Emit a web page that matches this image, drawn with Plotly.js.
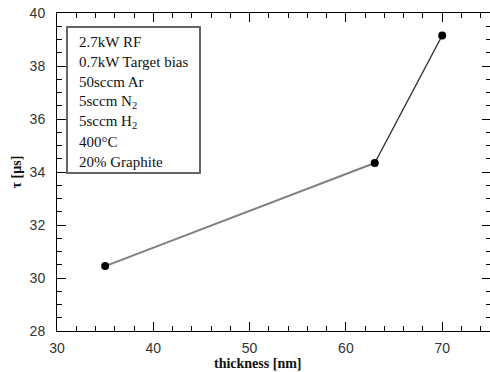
<!DOCTYPE html>
<html>
<head>
<meta charset="utf-8">
<script src="https://cdn.plot.ly/plotly-3.0.1.min.js"></script>
<style>html,body{margin:0;padding:0;background:#fff;overflow:hidden;}#chart{width:490px;height:372px;overflow:hidden;}</style>
</head>
<body>
<div id="chart"></div>
<script>
var thickness = [35, 63, 70];
var tau = [30.45, 34.34, 39.15];
var infoLines = ["2.7kW RF", "0.7kW Target bias", "50sccm Ar", "5sccm N<sub>2</sub>", "5sccm H<sub>2</sub>", "400°C", "20% Graphite"];
var xTitle = "thickness [nm]";
var yTitle = "τ [µs]";

var serif = "Liberation Serif, Times New Roman, serif";
var sans = "Liberation Sans, Arial, sans-serif";

var traces = [
  {x: thickness.slice(0, 2), y: tau.slice(0, 2), mode: "lines", line: {color: "#808080", width: 2}, hoverinfo: "skip"},
  {x: thickness.slice(1, 3), y: tau.slice(1, 3), mode: "lines", line: {color: "#333333", width: 1.4}, hoverinfo: "skip"},
  {x: thickness, y: tau, mode: "markers", marker: {color: "#000", size: 8}}
];

var PW = 434, PH = 318;
var annotations = infoLines.map(function (t, i) {
  return {xref: "paper", yref: "paper", x: (77 - 57) / PW, y: (331 - (42 + i * 20)) / PH,
    xanchor: "left", yanchor: "middle", showarrow: false, text: t,
    font: {family: serif, size: 15, color: "#111"}};
});
annotations.push({xref: "paper", yref: "paper", x: (258 - 57) / PW, y: (331 - 363) / PH, xanchor: "center", yanchor: "middle",
  showarrow: false, text: "<b>" + xTitle + "</b>", font: {family: serif, size: 14, color: "#111"}});

var layout = {
  width: 491, height: 372,
  margin: {l: 57, r: 0, t: 13, b: 41},
  paper_bgcolor: "#fff", plot_bgcolor: "#fff",
  showlegend: false,
  xaxis: {
    range: [30, 75.07], dtick: 10, tick0: 30, showgrid: false, zeroline: false,
    showline: true, linecolor: "#000", linewidth: 1, mirror: "ticks",
    ticks: "inside", ticklen: 9, tickcolor: "#000", tickwidth: 1,
    ticklabelstandoff: 4,
    tickfont: {family: sans, size: 14, color: "#333"},
    minor: {dtick: 2, ticks: "inside", ticklen: 5, tickcolor: "#000", tickwidth: 1, showgrid: false}
  },
  yaxis: {
    range: [28, 40], dtick: 2, tick0: 28, showgrid: false, zeroline: false,
    showline: true, linecolor: "#000", linewidth: 1, mirror: "ticks",
    ticks: "inside", ticklen: 9, tickcolor: "#000", tickwidth: 1,
    ticklabelstandoff: 8,
    tickfont: {family: sans, size: 14, color: "#333"},
    title: {text: "<b>" + yTitle + "</b>", font: {family: serif, size: 14, color: "#111"}, standoff: 4},
    minor: {dtick: 0.5, ticks: "inside", ticklen: 5, tickcolor: "#000", tickwidth: 1, showgrid: false}
  },
  shapes: [{type: "rect", xref: "paper", yref: "paper",
    x0: (67 - 57) / PW, x1: (200 - 57) / PW, y0: (331 - 173) / PH, y1: (331 - 27) / PH,
    line: {color: "#666", width: 2}, fillcolor: "rgba(0,0,0,0)"}],
  annotations: annotations
};

Plotly.newPlot("chart", traces, layout, {displayModeBar: false, staticPlot: true});
</script>
</body>
</html>
